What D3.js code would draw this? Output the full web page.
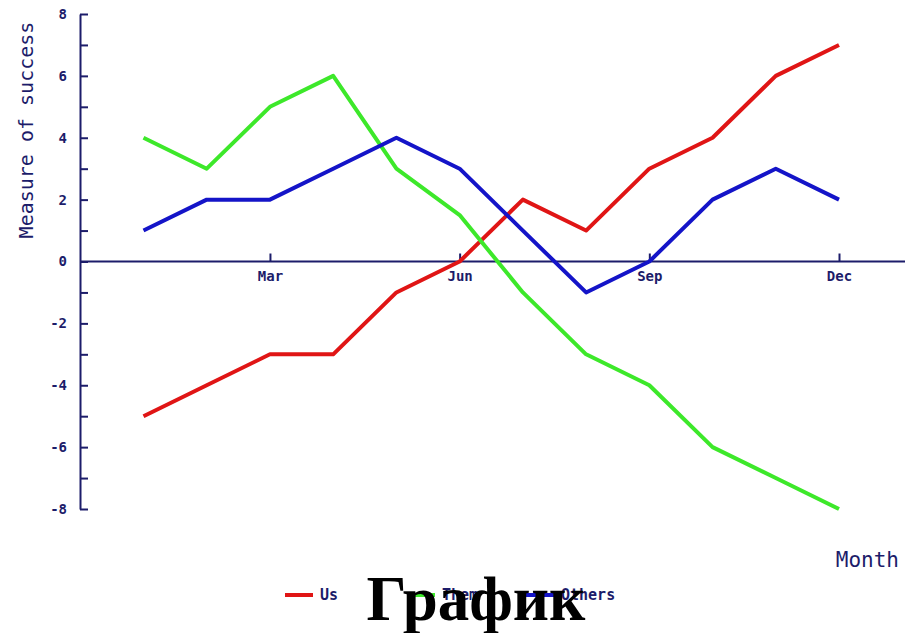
<!DOCTYPE html>
<html>
<head>
<meta charset="utf-8">
<script src="https://cdn.jsdelivr.net/npm/d3@7"></script>
<style>
body { margin: 0; background: #fff; }
svg { display: block; }
</style>
</head>
<body>
<svg width="915" height="633"></svg>
<script>
var svg = d3.select('svg');

// data
var months = ["Jan","Feb","Mar","Apr","May","Jun","Jul","Aug","Sep","Oct","Nov","Dec"];
var us     = [-5, -4, -3, -3, -1, 0, 2, 1, 3, 4, 6, 7];
var them   = [4, 3, 5, 6, 3, 1.5, -1, -3, -4, -6, -7, -8];
var others = [1, 2, 2, 3, 4, 3, 1, -1, 0, 2, 3, 2];
var xTicks = ["Mar","Jun","Sep","Dec"];
var seriesNames = ["Us","Them","Others"];
var seriesColors = ["#e01515","#3de82a","#1414c8"];

var navy = '#1c1c6a';
var pixFont = '"DejaVu Sans Mono", monospace';

var ScaleX = d3.scalePoint().domain(months).range([143.5, 839]);
var ScaleY = d3.scaleLinear().domain([-8, 8]).range([509, 14]);

// y axis, ticks pointing into the plot
var yAxis = svg.append('g')
    .attr('transform','translate(80,0)')
    .call(d3.axisLeft(ScaleY).tickValues(d3.range(-8, 9, 1)).tickSizeInner(-8).tickSizeOuter(0)
        .tickFormat(function(d){ return d % 2 == 0 ? d3.format('')(d).replace('\u2212','-') : ''; }));
yAxis.select('.domain').attr('stroke', navy).attr('stroke-width', 2);
yAxis.selectAll('.tick line').attr('stroke', navy).attr('stroke-width', 2);
yAxis.selectAll('.tick text')
    .attr('x', -13)
    .style('font', 'bold 14px ' + pixFont)
    .attr('fill', navy);

// x axis along zero
var xAxis = svg.append('g')
    .attr('transform','translate(0,' + ScaleY(0) + ')')
    .call(d3.axisBottom(ScaleX).tickValues(xTicks).tickSizeInner(-8).tickSizeOuter(0));
xAxis.select('.domain').remove();
xAxis.selectAll('.tick line').attr('stroke', navy).attr('stroke-width', 2);
xAxis.selectAll('.tick text')
    .attr('y', 10)
    .style('font', 'bold 14px ' + pixFont)
    .attr('fill', navy);
svg.append('line')
    .attr('x1', 80).attr('x2', 905)
    .attr('y1', ScaleY(0)).attr('y2', ScaleY(0))
    .attr('stroke', navy).attr('stroke-width', 2);

// axis titles
svg.append('text')
    .text('Measure of success')
    .attr('transform','translate(33,130)rotate(-90)')
    .style('text-anchor','middle')
    .style('font', '20px ' + pixFont)
    .attr('fill', navy);
svg.append('text')
    .text('Month')
    .attr('x', 899).attr('y', 567)
    .style('text-anchor','end')
    .style('font', '21px ' + pixFont)
    .attr('fill', navy);

// lines
var line = d3.line()
    .x(function(d, i){ return ScaleX(months[i]); })
    .y(function(d){ return ScaleY(d); });

[us, them, others].forEach(function(s, k){
    svg.append('path')
        .datum(s)
        .attr('d', line)
        .attr('fill', 'none')
        .attr('stroke', seriesColors[k])
        .attr('stroke-width', 4)
        .attr('stroke-linejoin', 'round');
});

// legend
var legendX = [285, 407, 526];
seriesNames.forEach(function(name, k){
    svg.append('line')
        .attr('x1', legendX[k]).attr('x2', legendX[k] + 28)
        .attr('y1', 595).attr('y2', 595)
        .attr('stroke', seriesColors[k]).attr('stroke-width', 4);
    svg.append('text')
        .text(name)
        .attr('x', legendX[k] + 35).attr('y', 600)
        .style('font', 'bold 15px ' + pixFont)
        .attr('fill', navy);
});

// big caption over the legend
svg.append('text')
    .text('График')
    .attr('x', 476).attr('y', 620)
    .style('text-anchor','middle')
    .style('font', 'bold 63px "Liberation Serif", "Times New Roman", serif')
    .attr('fill', '#000');
</script>
</body>
</html>
